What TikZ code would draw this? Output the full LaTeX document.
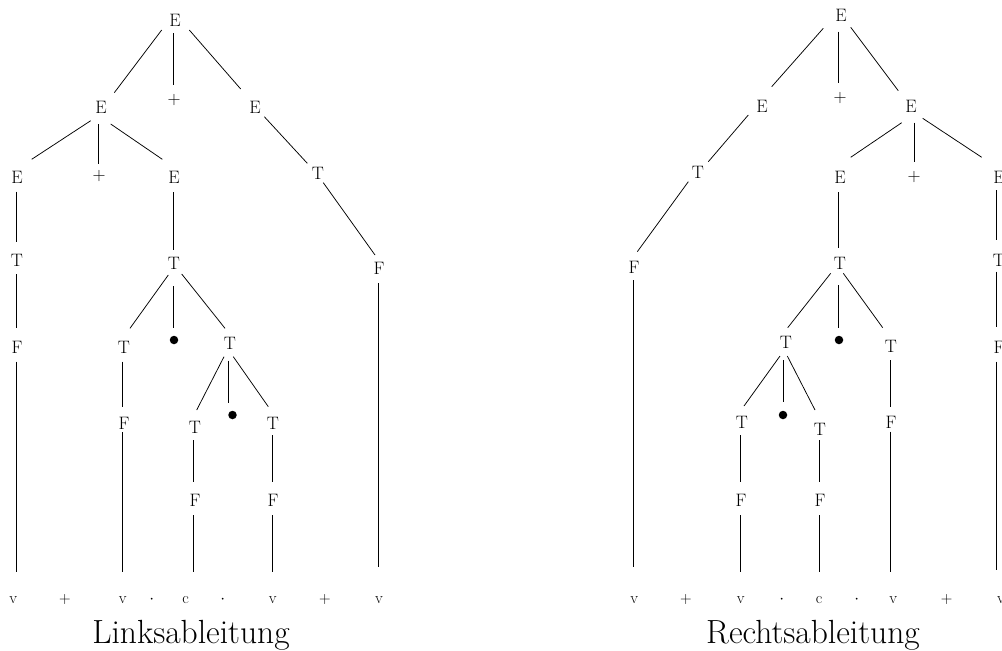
\documentclass[tikz,border=0pt]{standalone}
\usepackage{fontspec}
\usetikzlibrary{calc}
\newcommand\conn[6]{\draw[edgeline] ([shift={(#2,#3)}]#1.center) -- ([shift={(#5,#6)}]#4.center);}
\newcommand\leafconn[6]{\draw[edgeline] ([shift={(#2,#3)}]#1.center) -- ($(#1.center |- #4.north)+(#5,#6)$);}
\begin{document}
\begin{tikzpicture}[x=1pt,y=-1pt,
  sym/.style={font=\fontsize{18}{21}\selectfont, inner sep=0pt, outer sep=0pt},
  tok/.style={font=\fontsize{16}{19}\selectfont, inner sep=0pt, anchor=base},
  dotn/.style={circle, fill=black, minimum size=8.5pt, inner sep=0pt},
  edgeline/.style={line width=0.75pt, black},
  captionlbl/.style={font=\fontsize{33.5}{38}\selectfont, anchor=base, inner sep=0pt}]
\useasboundingbox (0,0) rectangle (1002,651);
\clip (0,0) rectangle (1002,651);

% ---------------- left tree ----------------
\node[sym] (L0) at (175,20) {E};
\node[sym] (L1a) at (101,107) {E};
\node[sym] (L1b) at (174,100) {+};
\node[sym] (L1c) at (255,107) {E};
\node[sym] (L2a) at (17,177) {E};
\node[sym] (L2b) at (99,176) {+};
\node[sym] (L2c) at (174,177) {E};
\node[sym] (L2d) at (318,173) {T};
\node[sym] (L3a) at (17,260) {T};
\node[sym] (L3c) at (174,263) {T};
\node[sym] (L3d) at (379,268) {F};
\node[sym] (L4a) at (17,347) {F};
\node[sym] (L4b) at (124,347) {T};
\node[dotn] (L4c) at (174,340) {};
\node[sym] (L4d) at (230,343) {T};
\node[sym] (L5b) at (124,423) {F};
\node[sym] (L5c) at (195,427) {T};
\node[dotn] (L5d) at (232.5,415) {};
\node[sym] (L5e) at (273,423) {T};
\node[sym] (L6c) at (195,500) {F};
\node[sym] (L6e) at (273,500) {F};

\node[tok] (a1) at (13.3,603.5) {v};
\node[tok] (a2) at (65,603.5) {+};
\node[tok] (a3) at (122.7,603.5) {v};
\node[tok] (a4) at (151.7,603.5) {$\cdot$};
\node[tok] (a5) at (185.7,603.5) {c};
\node[tok] (a6) at (222.7,603.5) {$\cdot$};
\node[tok] (a7) at (272.7,603.5) {v};
\node[tok] (a8) at (325,603.5) {+};
\node[tok] (a9) at (379,603.5) {v};
\node[captionlbl] (capL) at (191,643) {Linksableitung};

\conn{L0}{-13.3}{10}{L1a}{13.3}{-14.3}
\conn{L0}{-1.7}{13.3}{L1b}{-0.7}{-15}
\conn{L0}{14.3}{10}{L1c}{-14.3}{-18}
\conn{L1a}{-10.3}{13.7}{L2a}{14.7}{-17.7}
\conn{L1a}{-2.3}{17}{L2b}{-0.3}{-12}
\conn{L1a}{9.7}{17}{L2c}{-11.7}{-17.7}
\conn{L1c}{9.3}{9.7}{L2d}{-10.7}{-9.7}
\conn{L2a}{-1}{14.7}{L3a}{-1}{-18.3}
\conn{L2c}{-0.7}{15}{L3c}{-0.7}{-13}
\conn{L2d}{5.3}{9.7}{L3d}{-4}{-13}
\conn{L3a}{-1}{14}{L4a}{-1}{-19}
\conn{L3c}{-5.7}{12}{L4b}{6}{-18.7}
\conn{L3c}{-0.7}{23}{L4c}{-0.7}{-11.7}
\conn{L3c}{7.7}{11}{L4d}{-5}{-14.7}
\conn{L4b}{-1.3}{14.7}{L5b}{-1.3}{-16}
\conn{L4d}{-6}{13.7}{L5c}{1.7}{-17}
\conn{L4d}{-1.3}{17.7}{L5d}{-3.8}{-12}
\conn{L4d}{3.3}{13.7}{L5e}{-4.7}{-16.3}
\conn{L5c}{-1.7}{13}{L6c}{-1.7}{-18.3}
\conn{L5e}{-0.7}{12}{L6e}{-0.7}{-18.3}
\leafconn{L4a}{-1}{14.7}{a1}{-1}{-24.6}
\leafconn{L5b}{-1.3}{9}{a3}{-1.3}{-24.6}
\leafconn{L6c}{-1.7}{15}{a5}{-1.7}{-24.6}
\leafconn{L6e}{-0.7}{15}{a7}{-0.7}{-24.6}
\leafconn{L3d}{-0.7}{15.3}{a9}{-0.7}{-29.6}

% ---------------- right tree ----------------
\node[sym] (R0) at (841,15) {E};
\node[sym] (R1a) at (762,106) {E};
\node[sym] (R1b) at (840,98) {+};
\node[sym] (R1c) at (911,106) {E};
\node[sym] (R2a) at (698,172) {T};
\node[sym] (R2b) at (840,177) {E};
\node[sym] (R2c) at (914,177) {+};
\node[sym] (R2d) at (999,177) {E};
\node[sym] (R3a) at (634,267) {F};
\node[sym] (R3b) at (840,263) {T};
\node[sym] (R3d) at (999,260) {T};
\node[sym] (R4a) at (786,342) {T};
\node[dotn] (R4b) at (839,340) {};
\node[sym] (R4c) at (891,346) {T};
\node[sym] (R4d) at (999,347) {F};
\node[sym] (R5a) at (742,422) {T};
\node[dotn] (R5b) at (783,415) {};
\node[sym] (R5c) at (820,429) {T};
\node[sym] (R5d) at (891,422) {F};
\node[sym] (R6a) at (741,500) {F};
\node[sym] (R6c) at (820,500) {F};

\node[tok] (b1) at (634.3,603.5) {v};
\node[tok] (b2) at (686,603.5) {+};
\node[tok] (b3) at (740.7,603.5) {v};
\node[tok] (b4) at (781.7,603.5) {$\cdot$};
\node[tok] (b5) at (819,603.5) {c};
\node[tok] (b6) at (856.7,603.5) {$\cdot$};
\node[tok] (b7) at (893.3,603.5) {v};
\node[tok] (b8) at (946.7,603.5) {+};
\node[tok] (b9) at (1001,603.5) {v};
\node[captionlbl] (capR) at (813,643) {Rechtsableitung};

\conn{R0}{-17.7}{13.3}{R1a}{9.7}{-19.3}
\conn{R0}{-2.3}{16.7}{R1b}{-1.3}{-15.3}
\conn{R0}{9.7}{12.3}{R1c}{-12.7}{-15.3}
\conn{R1a}{-13.7}{9}{R2a}{10.3}{-10.3}
\conn{R1c}{-9.3}{16.7}{R2b}{10.7}{-19.7}
\conn{R1c}{3}{16.7}{R2c}{0}{-15.3}
\conn{R1c}{11.7}{12.3}{R2d}{-17.3}{-19.7}
\conn{R2a}{-9.7}{9.7}{R3a}{3.3}{-15.3}
\conn{R2b}{-1.3}{15}{R3b}{-1.3}{-14.7}
\conn{R2d}{-2.3}{13}{R3d}{-2.3}{-20}
\conn{R3b}{-9.3}{10.3}{R4a}{1.7}{-14.3}
\conn{R3b}{-1.3}{22}{R4b}{-0.3}{-12.3}
\conn{R3b}{3.3}{10.3}{R4c}{-8.3}{-18.3}
\conn{R3d}{-2.3}{11.7}{R4d}{-2.3}{-20.3}
\conn{R4a}{-6}{14}{R5a}{2}{-16}
\conn{R4a}{-2.7}{18}{R5b}{0.3}{-13.3}
\conn{R4a}{1.3}{14}{R5c}{-5}{-19}
\conn{R4c}{-0.3}{14}{R5d}{-0.3}{-15.3}
\conn{R5a}{-2}{13}{R6a}{-1}{-18.3}
\conn{R5c}{-1}{11}{R6c}{-1}{-18.3}
\leafconn{R3a}{-0.7}{13}{b1}{-0.7}{-29.6}
\leafconn{R6a}{-1}{15}{b3}{-1}{-24.6}
\leafconn{R6c}{-1}{15}{b5}{-1}{-24.6}
\leafconn{R5d}{-0.3}{9.7}{b7}{-0.3}{-24.6}
\leafconn{R4d}{-2.3}{14.7}{b9}{-2.3}{-26.2}
\end{tikzpicture}
\end{document}
